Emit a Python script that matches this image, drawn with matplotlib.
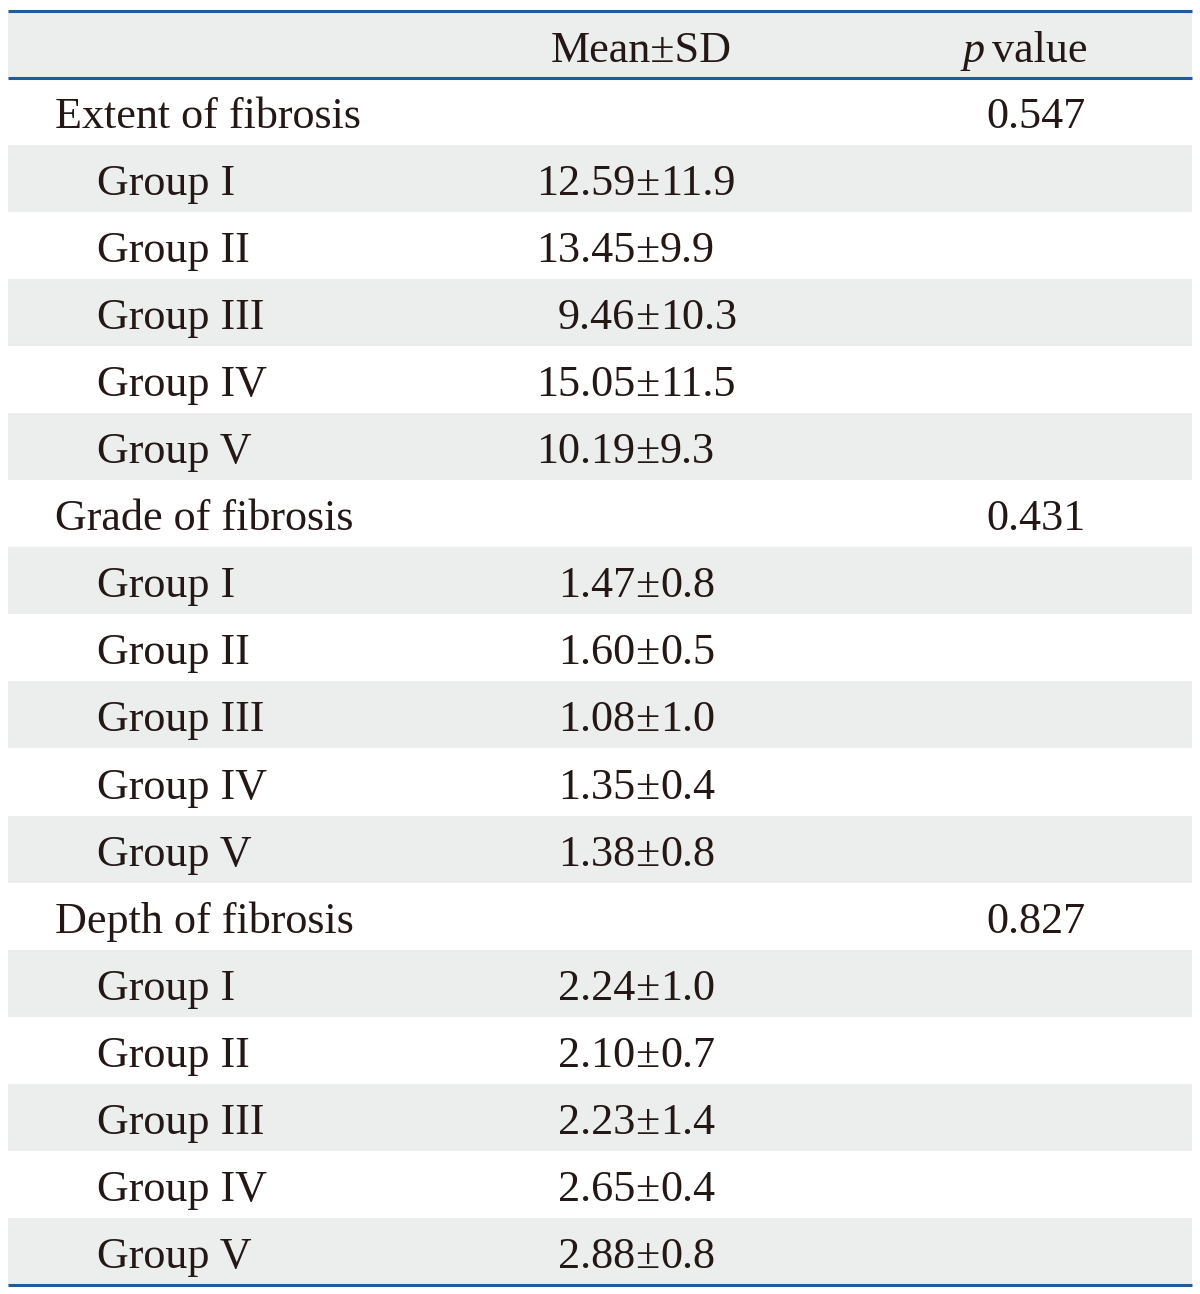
import matplotlib
matplotlib.use('Agg')
import matplotlib.pyplot as plt

# Table content
sections = ['Extent of fibrosis', 'Grade of fibrosis', 'Depth of fibrosis']
p_values = ['0.547', '0.431', '0.827']
groups = ['Group I', 'Group II', 'Group III', 'Group IV', 'Group V']
means = [
    ['12.59', '13.45', '9.46', '15.05', '10.19'],
    ['1.47', '1.60', '1.08', '1.35', '1.38'],
    ['2.24', '2.10', '2.23', '2.65', '2.88'],
]
sds = [
    ['11.9', '9.9', '10.3', '11.5', '9.3'],
    ['0.8', '0.5', '1.0', '0.4', '0.8'],
    ['1.0', '0.7', '1.4', '0.4', '0.8'],
]

W, H = 1200, 1294
FONT = 'Liberation Serif'
FS = 31.8
TXT = '#231815'
SHADE = '#eceeee'
LINE = '#1f5c9e'

fig = plt.figure(figsize=(W / 100, H / 100), dpi=100)
ax = fig.add_axes([0, 0, 1, 1])
ax.set_xlim(0, W)
ax.set_ylim(H, 0)
ax.axis('off')

x0, x1 = 8, 1192
top, head_bot = 11, 78
row_h = 67.05


def txt(x, y, s, ha='left', style='normal'):
    ax.text(x, y, s, ha=ha, va='baseline', fontsize=FS, family=FONT,
            color=TXT, style=style)


# header
ax.fill_between([x0, x1], top, head_bot, color=SHADE, lw=0)
txt(641, head_bot - 16, 'Mean\u00b1SD', ha='center')
txt(985, head_bot - 16, 'p', ha='right', style='italic')
txt(992, head_bot - 16, 'value')

i = 0
for s, sec in enumerate(sections):
    y = head_bot + i * row_h
    txt(55, y + row_h - 17, sec)
    txt(1036, y + row_h - 17, p_values[s], ha='center')
    i += 1
    for g, grp in enumerate(groups):
        y = head_bot + i * row_h
        if g % 2 == 0:
            ax.fill_between([x0, x1], y, y + row_h, color=SHADE, lw=0)
        base = y + row_h - 17
        txt(97, base, grp)
        txt(635, base, means[s][g], ha='right')
        txt(647.5, base, '\u00b1', ha='center')
        txt(660, base, sds[s][g])
        i += 1

bottom = head_bot + i * row_h
for yy in [top, head_bot, bottom]:
    ax.plot([x0, x1], [yy, yy], color=LINE, lw=2.2, solid_capstyle='butt')

fig.savefig('out.png', dpi=100, facecolor='white')
